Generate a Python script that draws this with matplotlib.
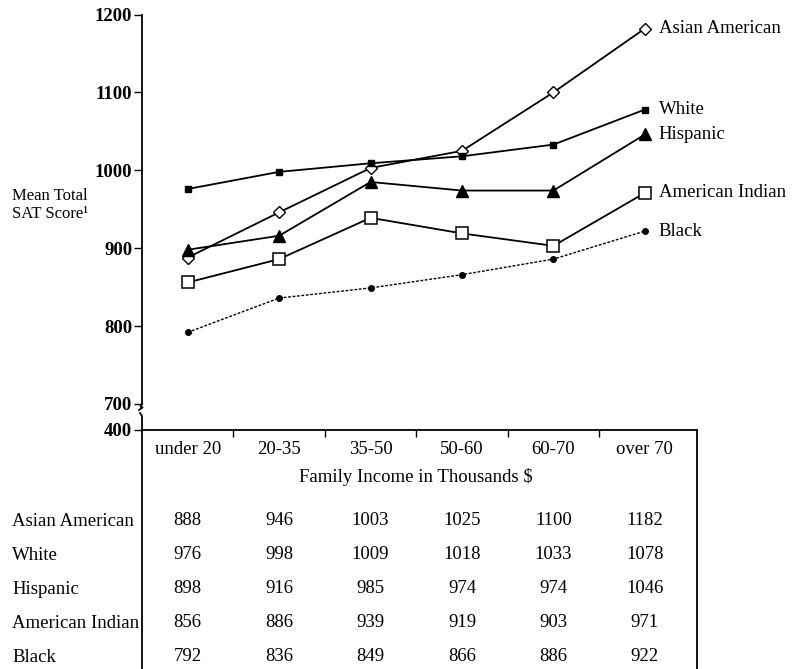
import numpy as np
import matplotlib
matplotlib.use('Agg')
import matplotlib.pyplot as plt
from matplotlib.transforms import IdentityTransform

plt.rcParams['font.family'] = ['Liberation Serif', 'DejaVu Serif']

# data
incomes = ['under 20', '20-35', '35-50', '50-60', '60-70', 'over 70']
groups = ['Asian American', 'White', 'Hispanic', 'American Indian', 'Black']
asian = [888, 946, 1003, 1025, 1100, 1182]
white = [976, 998, 1009, 1018, 1033, 1078]
hispanic = [898, 916, 985, 974, 974, 1046]
am_indian = [856, 886, 939, 919, 903, 971]
black = [792, 836, 849, 866, 886, 922]
series = [asian, white, hispanic, am_indian, black]
ticks = [700, 800, 900, 1000, 1100, 1200]

W, H = 796, 669
fig = plt.figure(figsize=(W / 100, H / 100), dpi=100)

''' marker styles per group '''
styles = [
    dict(marker='D', ms=6.5, mfc='white', mec='black', mew=1.0, ls='-', lw=1.3),
    dict(marker='s', ms=4.5, mfc='black', mec='black', ls='-', lw=1.3),
    dict(marker='^', ms=9, mfc='black', mec='black', ls='-', lw=1.3),
    dict(marker='s', ms=8.5, mfc='white', mec='black', mew=1.1, ls='-', lw=1.3),
    dict(marker='o', ms=4, mfc='black', mec='black', ls=(0, (2, 1.2)), lw=1.0),
]

# main plot: 1200 at y=14.5px, 700 at y=404px, bottom (400) at y=430px
px_per = (404 - 14.5) / 500.0
y_bot = 700 - (430 - 404) / px_per
ax = fig.add_axes([142 / W, 1 - 430 / H, (697 - 142) / W, (430 - 14.5) / H])
ax.set_xlim(-0.5, 5.57)
ax.set_ylim(y_bot, 1200)
x = np.arange(len(incomes))
for name, vals, st in zip(groups, series, styles):
    ax.plot(x, vals, color='black', clip_on=False, **st)
    ax.annotate(name, (x[-1], vals[-1]), xytext=(10, 0), textcoords='offset points',
                va='center', ha='left', fontsize=13.5, annotation_clip=False)

for s in ['top', 'right', 'bottom']:
    ax.spines[s].set_visible(False)
ax.spines['left'].set_bounds(700, 1200)
ax.spines['left'].set_linewidth(1.3)
ax.set_yticks(ticks + [y_bot])
ax.set_yticklabels([str(t) for t in ticks] + ['400'], fontweight='bold')
ax.tick_params(axis='y', direction='out', length=6, width=1.0, labelsize=13.5, pad=1)
ax.set_xticks([])

# axis break
tr = IdentityTransform()
def P(px, py):
    return px, H - py
for seg in [[(142, 404), (140.5, 406.5), (142.5, 407.5), (139, 410)],
            [(140, 413), (142, 416), (142, 430)]]:
    xs, ys = zip(*[P(a, b) for a, b in seg])
    fig.add_artist(plt.Line2D(xs, ys, transform=tr, color='black', lw=1.3))

fig.text(12 / W, 1 - 205 / H, 'Mean Total\nSAT Score\u00b9', ha='left', va='center',
         fontsize=12, linespacing=1.15)

# table underneath
tax = fig.add_axes([142 / W, 0, (697 - 142) / W, (H - 430) / H])
tax.set_xlim(-0.5, 5.57)
tax.set_ylim(H, 430)
tax.set_facecolor('none')
tax.spines['bottom'].set_visible(False)
for s in ['top', 'left', 'right']:
    tax.spines[s].set_linewidth(1.3)
tax.xaxis.tick_top()
tax.set_xticks(np.arange(len(incomes) - 1) + 0.5)
tax.set_xticklabels([])
tax.tick_params(axis='x', direction='in', length=5, width=1.0)
tax.set_yticks([])

for i, lab in enumerate(incomes):
    tax.text(i, 450, lab, ha='center', va='center', fontsize=13.5)
tax.text(2.5, 477, 'Family Income in Thousands $', ha='center', va='center', fontsize=13.5)

row_y = [521, 555, 589, 623, 657]
for name, vals, yy in zip(groups, series, row_y):
    fig.text(12 / W, 1 - yy / H, name, ha='left', va='center', fontsize=13.5)
    for i, v in enumerate(vals):
        tax.text(i, yy, str(v), ha='center', va='center', fontsize=13.5)

fig.savefig('out.png', dpi=100)
